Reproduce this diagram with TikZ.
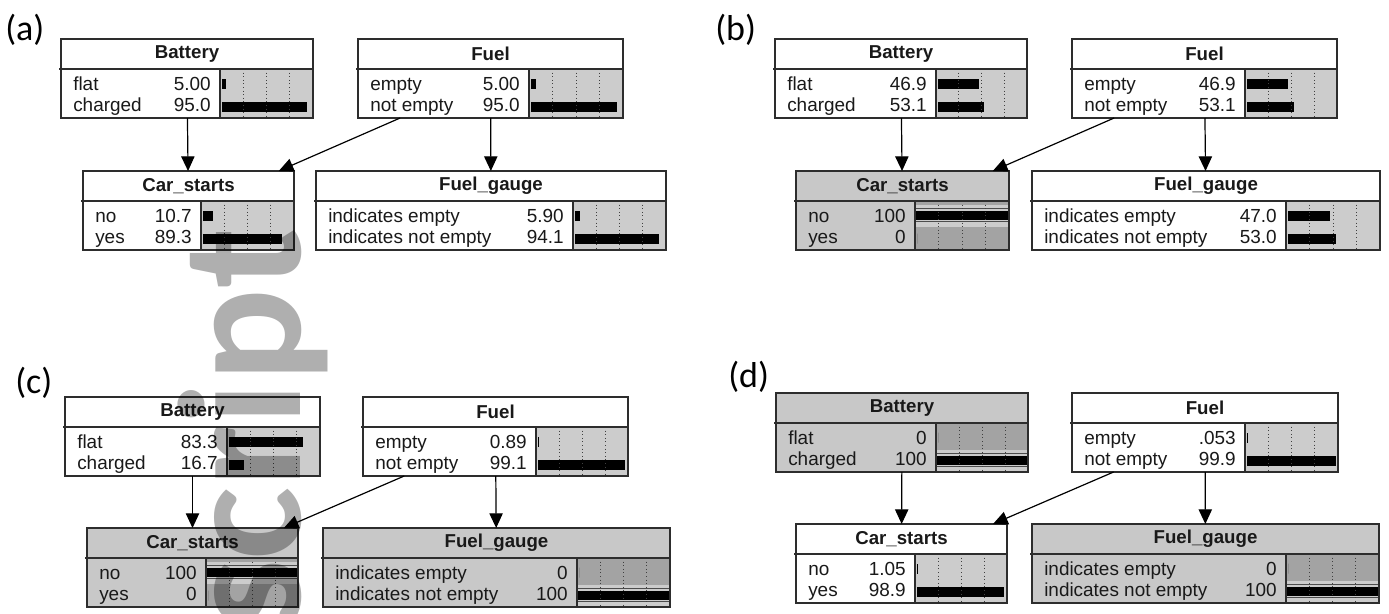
\documentclass[tikz,border=0pt]{standalone}
\usepackage{fontspec}
\setmainfont{Liberation Sans}
\newfontfamily\tagfont{Carlito}
\usetikzlibrary{arrows.meta}
\definecolor{frame}{RGB}{45,45,45}
\definecolor{bargray}{RGB}{204,204,204}
\definecolor{obsgray}{RGB}{200,200,200}
\definecolor{obsbar}{RGB}{163,163,163}
\definecolor{wmgray}{RGB}{175,175,175}

\tikzset{
  netbox/.style={draw=frame, line width=1.2pt, inner sep=0pt, outer sep=0pt, anchor=north west},
  txt/.style={inner sep=0pt, font=\fontsize{14.2}{16}\selectfont, text=black!90},
  link/.style={-{Triangle[length=11pt, width=10pt]}, line width=0.9pt},
  gridline/.style={dotted, line width=0.7pt, black!75},
  tag/.style={anchor=base west, inner sep=0pt, font=\tagfont\fontsize{27}{30}\selectfont},
  watermark/.style={rotate=90, anchor=base west, inner sep=0pt, text=wmgray,
    font=\tagfont\bfseries\fontsize{131}{131}\selectfont},
}

% a network node: name, left, top, right, bar left, title, fill, bar fill
\newcommand{\netnode}[8]{%
  \def\curname{#1}\def\curleft{#2}\def\curtop{#3}\def\curright{#4}\def\curbar{#5}%
  \node[netbox, fill=#7, minimum width={(#4-#2)*0.75pt}, minimum height={79*0.75pt}] (#1) at (#2,#3) {};
  \fill[#8] (#5,#3+30) rectangle (#4,#3+79);
  \node[txt, font=\fontsize{14}{16}\selectfont\bfseries] (#1-title) at ({(#2+#4)/2},#3+15) {#6};
}

% one state: row, state, value, percent
\newcommand{\staterow}[4]{%
  \pgfmathsetmacro\texty{\curtop+51.5+(#1-1)*20.5}
  \pgfmathsetmacro\bary{\curtop+44.5+(#1-1)*23}
  \node[txt, anchor=base west] (\curname-l#1) at (\curleft+12,\texty) {#2};
  \node[txt, anchor=base east] (\curname-v#1) at (\curbar-9,\texty) {#3};
  \fill (\curbar+2,\bary-5) rectangle ({\curbar+2+#4/100*(\curright-\curbar-4)},\bary+5);
}

% the observed state: row, state, value
\newcommand{\obsrow}[3]{%
  \pgfmathsetmacro\texty{\curtop+51.5+(#1-1)*20.5}
  \pgfmathsetmacro\bary{\curtop+44.5+(#1-1)*23}
  \fill[bargray] (\curbar,\bary-11) rectangle (\curright,\bary+11);
  \draw[black!70, line width=0.5pt] (\curbar,\bary-7) -- (\curright,\bary-7)
    (\curbar,\bary+6) -- (\curright,\bary+6);
  \fill (\curbar,\bary-4.5) rectangle (\curright,\bary+4.5);
  \node[txt, anchor=base west] (\curname-l#1) at (\curleft+12,\texty) {#2};
  \node[txt, anchor=base east] (\curname-v#1) at (\curbar-9,\texty) {#3};
}

% grid and frame on top
\newcommand{\closenode}{%
  \foreach \k in {1,2,3}
    \draw[gridline] ({\curbar+\k*(\curright-\curbar)/4},\curtop+30) -- ++(0,49);
  \draw[frame, line width=1.2pt] (\curbar,\curtop+30) -- (\curbar,\curtop+79);
  \draw[frame, line width=2pt] (\curleft-2,\curtop+30) -- (\curright,\curtop+30);
  \draw[frame, line width=1.2pt] (\curname.north west) rectangle (\curname.south east);
}

\begin{document}
\begin{tikzpicture}[x=0.75pt, y=-0.75pt]
  \useasboundingbox (0,0) rectangle (1389,614);

  % (a) prior
  \node[tag] (tag-a) at (5,40) {(a)};
  \netnode{bat-a}{61}{39}{313}{220}{Battery}{white}{bargray}
  \staterow{1}{flat}{5.00}{5}
  \staterow{2}{charged}{95.0}{95}
  \closenode
  \netnode{fuel-a}{358}{39}{623}{529}{Fuel}{white}{bargray}
  \staterow{1}{empty}{5.00}{5}
  \staterow{2}{not empty}{95.0}{95}
  \closenode
  \netnode{car-a}{83}{171}{294}{201}{Car\_starts}{white}{bargray}
  \staterow{1}{no}{10.7}{10.7}
  \staterow{2}{yes}{89.3}{89.3}
  \closenode
  \netnode{gauge-a}{316}{171}{666}{573}{Fuel\_gauge}{white}{bargray}
  \staterow{1}{indicates empty}{5.90}{5.9}
  \staterow{2}{indicates not empty}{94.1}{94.1}
  \closenode
  \draw[link] (bat-a) -- (car-a);
  \draw[link] (fuel-a) -- (car-a);
  \draw[link] (fuel-a) -- (gauge-a);

  % (b) car does not start
  \node[tag] (tag-b) at (715,40) {(b)};
  \netnode{bat-b}{775}{39}{1027}{936}{Battery}{white}{bargray}
  \staterow{1}{flat}{46.9}{46.9}
  \staterow{2}{charged}{53.1}{53.1}
  \closenode
  \netnode{fuel-b}{1072}{39}{1337}{1245}{Fuel}{white}{bargray}
  \staterow{1}{empty}{46.9}{46.9}
  \staterow{2}{not empty}{53.1}{53.1}
  \closenode
  \netnode{car-b}{796}{171}{1009}{915}{Car\_starts}{obsgray}{obsbar}
  \obsrow{1}{no}{100}
  \staterow{2}{yes}{0}{0}
  \closenode
  \netnode{gauge-b}{1032}{171}{1380}{1286}{Fuel\_gauge}{white}{bargray}
  \staterow{1}{indicates empty}{47.0}{47}
  \staterow{2}{indicates not empty}{53.0}{53}
  \closenode
  \draw[link] (bat-b) -- (car-b);
  \draw[link] (fuel-b) -- (car-b);
  \draw[link] (fuel-b) -- (gauge-b);

  % (c) gauge reads not empty
  \node[tag] (tag-c) at (15,393) {(c)};
  \netnode{bat-c}{65}{397}{320}{227}{Battery}{white}{bargray}
  \staterow{1}{flat}{83.3}{83.3}
  \staterow{2}{charged}{16.7}{16.7}
  \closenode
  \netnode{fuel-c}{363}{397}{628}{536}{Fuel}{white}{bargray}
  \staterow{1}{empty}{0.89}{0.89}
  \staterow{2}{not empty}{99.1}{99.1}
  \closenode
  \netnode{car-c}{87}{528}{298}{206}{Car\_starts}{obsgray}{obsbar}
  \obsrow{1}{no}{100}
  \staterow{2}{yes}{0}{0}
  \closenode
  \netnode{gauge-c}{323}{528}{670}{577}{Fuel\_gauge}{obsgray}{obsbar}
  \staterow{1}{indicates empty}{0}{0}
  \obsrow{2}{indicates not empty}{100}
  \closenode
  \draw[link] (bat-c) -- (car-c);
  \draw[link] (fuel-c) -- (car-c);
  \draw[link] (fuel-c) -- (gauge-c);

  % (d) battery charged
  \node[tag] (tag-d) at (728,387) {(d)};
  \netnode{bat-d}{776}{393}{1028}{936}{Battery}{obsgray}{obsbar}
  \staterow{1}{flat}{0}{0}
  \obsrow{2}{charged}{100}
  \closenode
  \netnode{fuel-d}{1072}{393}{1338}{1245}{Fuel}{white}{bargray}
  \staterow{1}{empty}{.053}{0.053}
  \staterow{2}{not empty}{99.9}{99.9}
  \closenode
  \netnode{car-d}{796}{524}{1007}{915}{Car\_starts}{white}{bargray}
  \staterow{1}{no}{1.05}{1.05}
  \staterow{2}{yes}{98.9}{98.9}
  \closenode
  \netnode{gauge-d}{1032}{524}{1379}{1286}{Fuel\_gauge}{obsgray}{obsbar}
  \staterow{1}{indicates empty}{0}{0}
  \obsrow{2}{indicates not empty}{100}
  \closenode
  \draw[link] (bat-d) -- (car-d);
  \draw[link] (fuel-d) -- (car-d);
  \draw[link] (fuel-d) -- (gauge-d);

  % watermark
  \begin{scope}[blend mode=multiply]
    \node[watermark] (mark) at (300,630) {script};
  \end{scope}
\end{tikzpicture}
\end{document}
